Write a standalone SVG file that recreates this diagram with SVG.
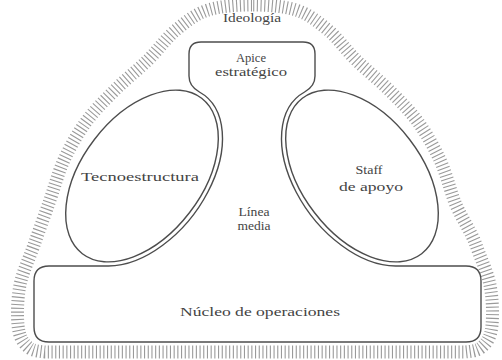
<svg xmlns="http://www.w3.org/2000/svg" width="502" height="360" viewBox="0 0 502 360">
  <style>
    .ln { fill: none; stroke: #4d4d4d; stroke-width: 1.4; }
    .hatch { fill: none; stroke: #9a9a9a; stroke-width: 13; stroke-dasharray: 1.1 2.6; }
    .t { font-family: "Liberation Serif", "Times New Roman", serif; font-size: 12px; fill: #444444; text-anchor: middle; }
  </style>
  <rect width="502" height="360" fill="#ffffff"/>

  <g id="ideologia">
    <path class="hatch" d="M252,5 C237.3,5 220.7,6 208,10 C195.3,14 186,21.8 176,30 C166,38.2 158.2,50 148,60 C137.8,70 125.3,79.7 115,90 C104.7,100.3 94.5,110.3 86,122 C77.5,133.7 70,147 64,160 C58,173 55,185.8 50,200 C45,214.2 39,230.8 34,245 C29,259.2 22.7,271.7 20,285 C17.3,298.3 17,315 18,325 C19,335 21.5,340.5 26,345 C30.5,349.5 32.7,350.8 45,352 L465,352 C477.3,350.8 479.5,349.5 484,345 C488.5,340.5 491,335 492,325 C493,315 492.7,298.3 490,285 C487.3,271.7 481,259.2 476,245 C471,230.8 459,214.2 454,200 C449,185.8 446,173 440,160 C434,147 426.5,133.7 418,122 C409.5,110.3 399.3,100.3 389,90 C378.7,79.7 366.2,70 356,60 C345.8,50 338,38.2 328,30 C318,21.8 308.7,14 296,10 C283.3,6 266.7,5 252,5 Z"/>
    <text class="t" x="252" y="22" textLength="58" lengthAdjust="spacingAndGlyphs">Ideología</text>
  </g>

  <g id="linea-media">
    <path class="ln" d="M108.1,266 A64 102 37.5 0 0 199.4,92 C193.3,88.6 189,84 189,76 L189,54 Q189,42 201,42 L303,42 Q315,42 315,54 L315,76 C315,84 310.7,88.6 304.6,92 A64 102 -37.5 0 0 395.9,266 L466,266 Q481,266 481,281 L481,327 Q481,342 466,342 L49,342 Q34,342 34,327 L34,281 Q34,266 49,266 Z"/>
    <text class="t" x="254" y="216" textLength="31" lengthAdjust="spacingAndGlyphs">Línea</text>
    <text class="t" x="254" y="230" textLength="33" lengthAdjust="spacingAndGlyphs">media</text>
  </g>

  <g id="apice">
    <text class="t" x="251" y="62" textLength="30" lengthAdjust="spacingAndGlyphs">Apice</text>
    <text class="t" x="251" y="76" textLength="72" lengthAdjust="spacingAndGlyphs">estratégico</text>
  </g>

  <g id="tecnoestructura">
    <ellipse class="ln" cx="142" cy="176" rx="60" ry="98" transform="rotate(37.5 142 176)"/>
    <text class="t" x="140" y="181" textLength="118" lengthAdjust="spacingAndGlyphs">Tecnoestructura</text>
  </g>

  <g id="staff">
    <ellipse class="ln" cx="362" cy="176" rx="60" ry="98" transform="rotate(-37.5 362 176)"/>
    <text class="t" x="369" y="174" textLength="27" lengthAdjust="spacingAndGlyphs">Staff</text>
    <text class="t" x="371" y="191" textLength="64" lengthAdjust="spacingAndGlyphs">de apoyo</text>
  </g>

  <g id="nucleo">
    <text class="t" x="260" y="316" textLength="160" lengthAdjust="spacingAndGlyphs">Núcleo de operaciones</text>
  </g>

  <g id="connectors"/>
</svg>
